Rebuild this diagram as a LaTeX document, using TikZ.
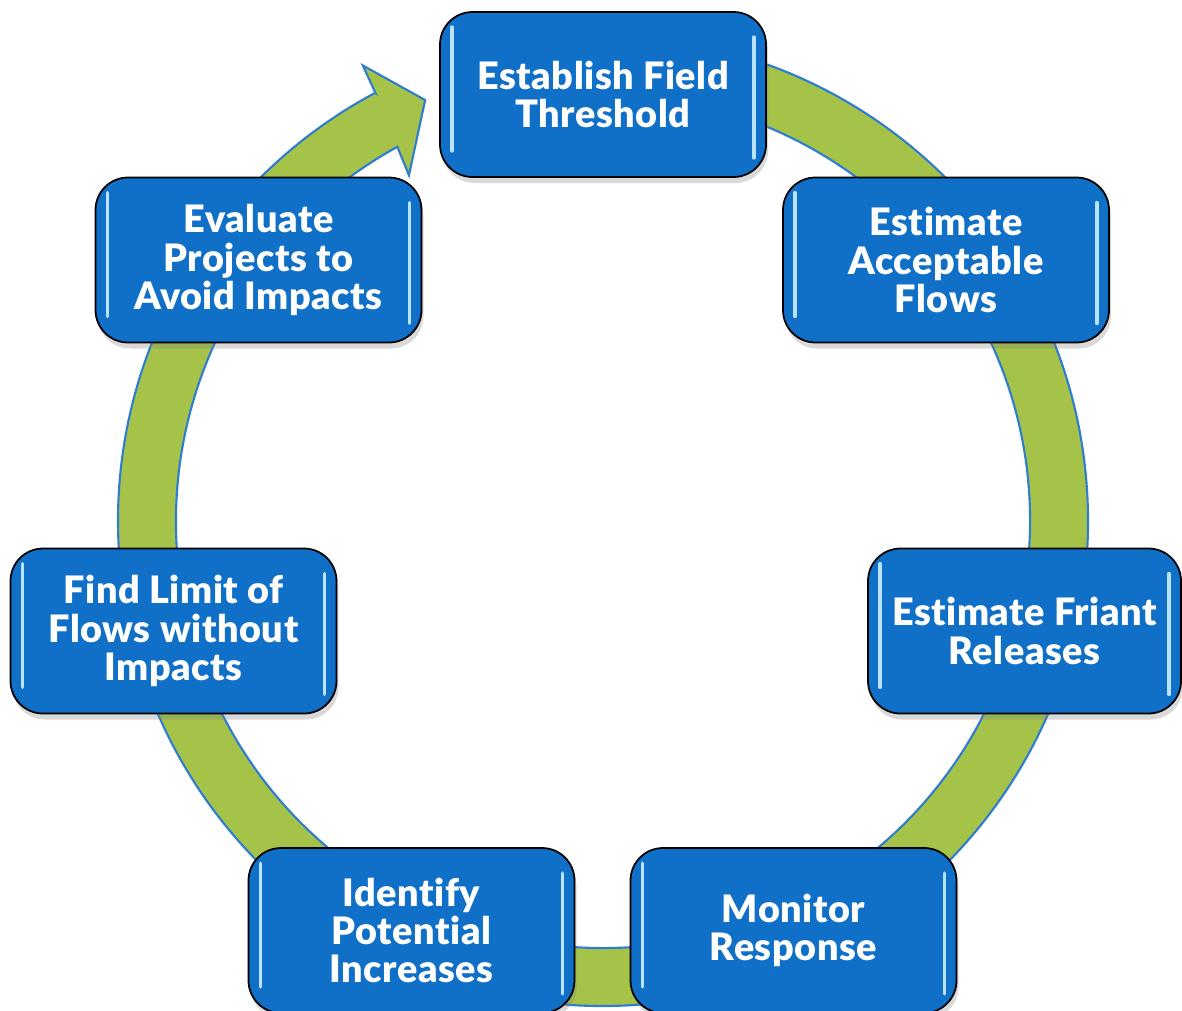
\documentclass[tikz,border=0pt]{standalone}
\usepackage{fontspec}
\setmainfont{Lato}[BoldFont={Lato Black}, BoldFeatures={LetterSpace=1.5, Ligatures=NoCommon}]
\usetikzlibrary{shadows}

\definecolor{stageblue}{RGB}{16,111,198}
\definecolor{ringgreen}{RGB}{165,194,73}
\definecolor{ringline}{RGB}{46,125,208}
\definecolor{glint}{RGB}{185,226,253}

\begin{document}
\begin{tikzpicture}[
	stage/.style={draw=black, line width=1pt, fill=stageblue, rounded corners=0.65cm,
		minimum width=6.52cm, minimum height=3.3cm, inner sep=0pt, align=center,
		text=white, font=\fontsize{21.5}{21.8}\selectfont\bfseries,
		drop shadow={opacity=0.3, shadow xshift=0.04cm, shadow yshift=-0.12cm}},
	gloss/.style={glint, line width=2pt, line cap=round},
	ring/.style={fill=ringgreen, draw=ringline, line width=1.2pt}]

	\useasboundingbox (0,0) rectangle (23.64,-20.2);

	% cycle band with its head
	\begin{scope}[shift={(12.06,-10.42)}]
		\draw[ring]	(118.0:9.7) -- (117.8:10.3) -- (112.9:9.14) -- (119.3:7.93) -- (118.8:8.54)
			arc[start angle=118.8, end angle=455, radius=8.54] -- (455:9.7)
			arc[start angle=455, end angle=118, radius=9.7] -- cycle;
	\end{scope}

	\node[stage] (threshold)	at (12.06,-1.89)	{Establish Field\\Threshold};
	\node[stage] (acceptable)	at (18.92,-5.2)		{Estimate\\Acceptable\\Flows};
	\node[stage, minimum width=6.26cm] (releases) at (20.49,-12.62) {Estimate Friant\\Releases};
	\node[stage] (monitor)		at (15.87,-18.61)	{Monitor\\Response};
	\node[stage] (increases)	at (8.23,-18.61)	{Identify\\Potential\\Increases};
	\node[stage] (limit)		at (3.47,-12.62)	{Find Limit of\\Flows without\\Impacts};
	\node[stage] (evaluate)		at (5.17,-5.2)		{Evaluate\\Projects to\\Avoid Impacts};

	\foreach \n in {threshold,acceptable,releases,monitor,increases,limit,evaluate}
	{
		\draw[gloss]	([shift={(0.26,-0.32)}]\n.north west) -- ([shift={(0.26,0.54)}]\n.south west);
		\draw[gloss]	([shift={(-0.26,-0.52)}]\n.north east) -- ([shift={(-0.26,0.4)}]\n.south east);
	}

\end{tikzpicture}
\end{document}
